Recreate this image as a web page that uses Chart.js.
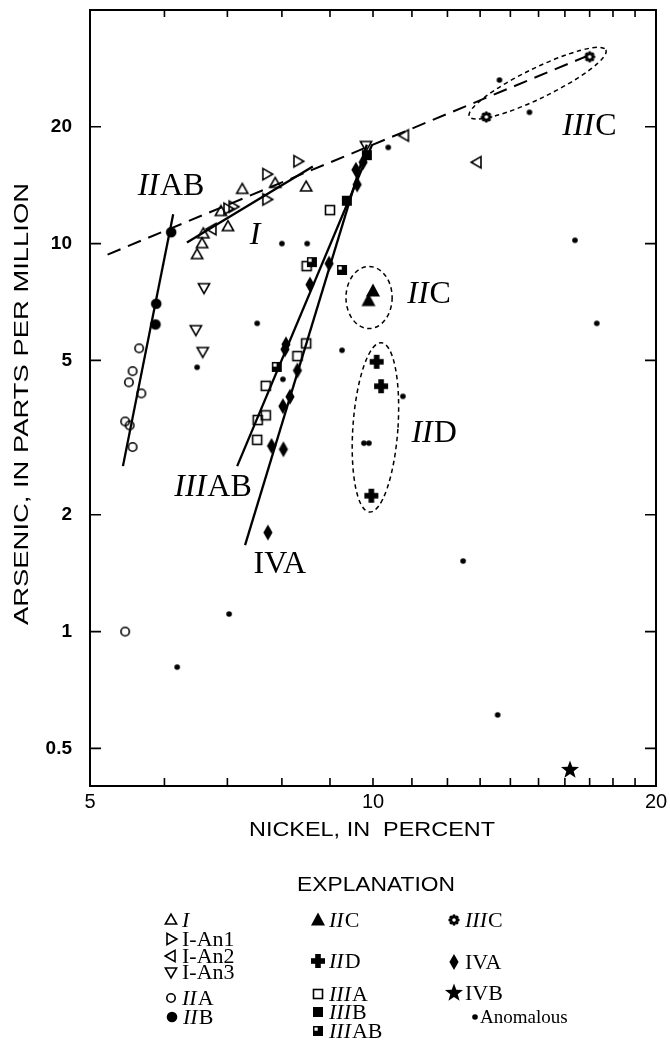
<!DOCTYPE html>
<html>
<head>
<meta charset="utf-8">
<title>Arsenic versus nickel in iron meteorites</title>
<script src="https://cdn.jsdelivr.net/npm/chart.js@4.4.1/dist/chart.umd.min.js"></script>
<style>
  html, body { margin: 0; padding: 0; background: #fff; }
  canvas { display: block; }
</style>
</head>
<body>
<canvas id="chart" width="670" height="1041"></canvas>
<script>
/* Arsenic (ppm) against nickel (%) for iron meteorite groups.
 * Log-log scatter drawn with Chart.js; frame, ticks, group labels,
 * dashed envelopes and the explanation are drawn by a small plugin.
 */

// ── Axis ticks ─────────────────────────────────────────────────────────────────

const X_TICKS  = [5, 6, 7, 8, 9, 10, 11, 12, 13, 14, 15, 16, 17, 18, 19, 20];
const X_LABELS = [5, 10, 20];
const Y_TICKS  = [0.5, 1, 2, 5, 10, 20];

// ── Data: [nickel %, arsenic ppm] ──────────────────────────────────────────────

const GROUP_I   = [[7.26, 13.8], [7.87, 14.3], [8.49, 14.0], [6.89, 12.1], [7.01, 11.06],
                   [6.6, 10.6], [6.58, 10.0], [6.5, 9.37]];
const I_AN1     = [[8.32, 16.3], [7.71, 15.1], [7.71, 13.0], [7.01, 12.3], [7.1, 12.45]];
const I_AN2     = [[10.8, 19.0], [12.9, 16.2], [6.74, 10.9]];
const I_AN3     = [[6.61, 7.7], [6.48, 6.0], [6.59, 5.27], [9.83, 17.9]];
const GROUP_IIA = [[5.64, 5.37], [5.55, 4.69], [5.5, 4.39], [5.67, 4.11], [5.45, 3.48],
                   [5.51, 3.4], [5.55, 2.99], [5.45, 1.0]];
const GROUP_IIB = [[6.1, 10.7], [5.88, 7.0], [5.87, 6.19]];
const GROUP_IIC = [[10.0, 7.55], [9.89, 7.13]];
const GROUP_IID = [[10.09, 4.96], [10.2, 4.29], [9.96, 2.24]];
const GROUP_IIIA  = [[9.0, 12.2], [8.5, 8.75], [8.49, 5.53], [8.31, 5.13], [7.69, 4.3],
                     [7.69, 3.61], [7.54, 3.51], [7.53, 3.12]];
const GROUP_IIIB  = [[9.85, 16.9], [9.38, 12.9]];
const GROUP_IIIAB = [[8.61, 8.96], [9.27, 8.55], [7.9, 4.81]];
const GROUP_IIIC  = [[17.0, 30.3], [13.2, 21.2]];
const GROUP_IVA   = [[8.08, 5.5], [8.06, 5.34], [8.31, 4.71], [8.16, 4.03], [8.02, 3.81],
                     [7.8, 3.01], [8.03, 2.95], [7.73, 1.8], [8.98, 8.88], [8.57, 7.84],
                     [9.59, 15.5], [9.62, 14.2], [9.76, 16.2]];
const GROUP_IVB   = [[16.2, 0.44]];
const ANOMALOUS   = [[13.63, 26.4], [14.67, 21.8], [10.38, 17.7], [16.4, 10.2], [8.0, 10.0],
                     [8.51, 10.0], [7.53, 6.23], [9.27, 5.31], [8.02, 4.47], [9.78, 3.06],
                     [9.9, 3.06], [17.3, 6.23], [10.76, 4.04], [6.5, 4.8], [6.19, 0.81],
                     [7.03, 1.11], [12.47, 1.52], [13.57, 0.61]];

// ── Trend lines (end points) ───────────────────────────────────────────────────

const LINE_I      = [[6.34, 10.06], [8.63, 15.8]];
const LINE_IIAB   = [[5.42, 2.67], [6.13, 11.9]];
const LINE_IIIAB  = [[7.17, 2.67], [9.98, 18.0]];
const LINE_IVA    = [[7.31, 1.67], [9.85, 18.0]];
const LINE_DASHED = [[5.22, 9.37], [17.2, 31.0]];

// ── Annotations (anchored in data space) ───────────────────────────────────────

const ENVELOPES = [
  { x: [9.36, 10.48], y: [6.04, 8.73] },                         // IIC
  { x: [9.52, 10.63], y: [2.03, 5.56], tilt: 4 },                // IID
  { ends: [[12.66, 21.26], [17.69, 31.56]], halfWidth: 15 },     // IIIC
];

const GROUP_LABELS = [
  { num: "II",  rest: "AB", x: 6.09,  y: 13.37 },
  { num: "I",   rest: "",   x: 7.49,  y: 10.0 },
  { num: "II",  rest: "C",  x: 11.46, y: 7.01 },
  { num: "II",  rest: "D",  x: 11.6,  y: 3.08 },
  { num: "III", rest: "C",  x: 16.97, y: 19.07 },
  { num: "III", rest: "AB", x: 6.75,  y: 2.23 },
  { num: "",    rest: "IVA", x: 7.96, y: 1.42 },
];

// ── Markers ────────────────────────────────────────────────────────────────────

function marker(size, paint) {
  const c = document.createElement("canvas");
  c.width = c.height = size;
  const g = c.getContext("2d");
  g.translate(size / 2, size / 2);
  g.lineWidth = 1.6;
  g.strokeStyle = "#000";
  g.fillStyle = "#000";
  g.lineJoin = "miter";
  paint(g);
  return c;
}

function openTriangle(rot) {
  return marker(16, g => {
    g.rotate(rot * Math.PI / 180);
    g.beginPath();
    g.moveTo(0, -5.8);
    g.lineTo(5.6, 4);
    g.lineTo(-5.6, 4);
    g.closePath();
    g.stroke();
  });
}

const MARKERS = {
  I:    openTriangle(0),
  IAn1: openTriangle(90),
  IAn2: openTriangle(-90),
  IAn3: openTriangle(180),
  IIA:  marker(14, g => { g.beginPath(); g.arc(0, 0, 4.2, 0, Math.PI * 2); g.stroke(); }),
  IIB:  marker(14, g => { g.beginPath(); g.arc(0, 0, 5.3, 0, Math.PI * 2); g.fill(); }),
  IIC:  marker(18, g => {
    g.beginPath(); g.moveTo(0, -7.5); g.lineTo(7, 5.5); g.lineTo(-7, 5.5); g.closePath(); g.fill();
  }),
  IID:  marker(16, g => { g.fillRect(-2.8, -7, 5.6, 14); g.fillRect(-7, -2.8, 14, 5.6); }),
  IIIA: marker(14, g => { g.strokeRect(-4.5, -4.5, 9, 9); }),
  IIIB: marker(14, g => { g.fillRect(-5, -5, 10, 10); }),
  IIIAB: marker(14, g => {
    g.fillRect(-5, -5, 10, 10);
    g.fillStyle = "#fff";
    g.fillRect(-3.5, -3.5, 3.2, 3.2);
  }),
  IIIC: marker(14, g => {
    g.beginPath(); g.arc(0, 0, 3.8, 0, Math.PI * 2); g.fill();
    for (let i = 0; i < 8; i++) {
      const a = i * Math.PI / 4;
      g.beginPath(); g.arc(Math.cos(a) * 4, Math.sin(a) * 4, 1.7, 0, Math.PI * 2); g.fill();
    }
    g.fillStyle = "#fff";
    g.beginPath(); g.arc(0, 0, 1.8, 0, Math.PI * 2); g.fill();
  }),
  IVA:  marker(18, g => {
    g.beginPath(); g.moveTo(0, -8); g.lineTo(4.6, 0); g.lineTo(0, 8); g.lineTo(-4.6, 0); g.closePath(); g.fill();
  }),
  IVB:  marker(22, g => {
    g.beginPath();
    for (let i = 0; i < 10; i++) {
      const r = i % 2 ? 3.9 : 9.5;
      const a = -Math.PI / 2 + i * Math.PI / 5;
      g.lineTo(Math.cos(a) * r, Math.sin(a) * r);
    }
    g.closePath(); g.fill();
  }),
  anomalous: marker(8, g => { g.beginPath(); g.arc(0, 0, 2.8, 0, Math.PI * 2); g.fill(); }),
};

// ── Explanation layout ─────────────────────────────────────────────────────────

const LEGEND = [
  { m: "I",    num: "I",   rest: "",      x: 171, y: 920 },
  { m: "IAn1", num: "",    rest: "I-An1", x: 171, y: 939 },
  { m: "IAn2", num: "",    rest: "I-An2", x: 171, y: 956 },
  { m: "IAn3", num: "",    rest: "I-An3", x: 171, y: 972 },
  { m: "IIA",  num: "II",  rest: "A",     x: 171, y: 998 },
  { m: "IIB",  num: "II",  rest: "B",     x: 172, y: 1017 },
  { m: "IIC",  num: "II",  rest: "C",     x: 318, y: 920 },
  { m: "IID",  num: "II",  rest: "D",     x: 318, y: 961 },
  { m: "IIIA", num: "III", rest: "A",     x: 318, y: 994 },
  { m: "IIIB", num: "III", rest: "B",     x: 318, y: 1012 },
  { m: "IIIAB", num: "III", rest: "AB",   x: 318, y: 1031 },
  { m: "IIIC", num: "III", rest: "C",     x: 454, y: 920 },
  { m: "IVA",  num: "",    rest: "IVA",   x: 454, y: 962 },
  { m: "IVB",  num: "",    rest: "IVB",   x: 454, y: 993 },
  { m: "anomalous", num: "", rest: "Anomalous", x: 475, y: 1017, gap: 5, size: 19 },
];

// ── Text helpers ───────────────────────────────────────────────────────────────

const SERIF = "'Liberation Serif', 'DejaVu Serif', serif";
const SANS  = "'Liberation Sans', Arial, sans-serif";

// italic roman numeral followed by upright letters
function romanLabel(ctx, num, rest, x, y, size, align) {
  const it = `italic ${size}px ${SERIF}`;
  const up = `${size}px ${SERIF}`;
  ctx.font = it;
  const wNum = ctx.measureText(num).width;
  ctx.font = up;
  const wRest = ctx.measureText(rest).width;
  let left = align === "center" ? x - (wNum + wRest) / 2 : x;
  ctx.textAlign = "left";
  ctx.font = it;
  ctx.fillText(num, left, y);
  ctx.font = up;
  ctx.fillText(rest, left + wNum + (num ? 1 : 0), y);
}

// sans text stretched to a measured width
function fitText(ctx, text, cx, cy, size, width, vertical) {
  ctx.save();
  ctx.font = `${size}px ${SANS}`;
  const w = ctx.measureText(text).width;
  ctx.translate(cx, cy);
  if (vertical) ctx.rotate(-Math.PI / 2);
  ctx.scale(width / w, 1);
  ctx.textAlign = "center";
  ctx.textBaseline = "middle";
  ctx.fillText(text, 0, 0);
  ctx.restore();
}

// ── Figure plugin ──────────────────────────────────────────────────────────────

const figurePlugin = {
  id: "figure",

  beforeDatasetsDraw(chart) {
    const { ctx, scales: { x, y } } = chart;
    ctx.save();
    ctx.strokeStyle = "#000";
    ctx.lineWidth = 1.5;
    ctx.setLineDash([4.5, 3.5]);
    ENVELOPES.forEach(e => {
      ctx.beginPath();
      if (e.ends) {
        const [p, q] = e.ends;
        const x1 = x.getPixelForValue(p[0]), y1 = y.getPixelForValue(p[1]);
        const x2 = x.getPixelForValue(q[0]), y2 = y.getPixelForValue(q[1]);
        const half = Math.hypot(x2 - x1, y2 - y1) / 2;
        ctx.ellipse((x1 + x2) / 2, (y1 + y2) / 2, half, e.halfWidth,
          Math.atan2(y2 - y1, x2 - x1), 0, Math.PI * 2);
      } else {
        const l = x.getPixelForValue(e.x[0]), r = x.getPixelForValue(e.x[1]);
        const t = y.getPixelForValue(e.y[1]), b = y.getPixelForValue(e.y[0]);
        ctx.ellipse((l + r) / 2, (t + b) / 2, (r - l) / 2, (b - t) / 2,
          (e.tilt || 0) * Math.PI / 180, 0, Math.PI * 2);
      }
      ctx.stroke();
    });
    ctx.setLineDash([]);

    ctx.fillStyle = "#000";
    ctx.textBaseline = "alphabetic";
    GROUP_LABELS.forEach(l =>
      romanLabel(ctx, l.num, l.rest, x.getPixelForValue(l.x), y.getPixelForValue(l.y), 32, "center"));
    ctx.restore();
  },

  afterDatasetsDraw(chart) {
    const { ctx, chartArea: a, scales: { x, y } } = chart;
    ctx.save();
    ctx.strokeStyle = "#000";
    ctx.lineWidth = 2;
    ctx.strokeRect(a.left, a.top, a.right - a.left, a.bottom - a.top);

    ctx.lineWidth = 1.6;
    ctx.beginPath();
    X_TICKS.forEach(v => {
      const px = x.getPixelForValue(v);
      ctx.moveTo(px, a.bottom); ctx.lineTo(px, a.bottom - 8);
      ctx.moveTo(px, a.top);    ctx.lineTo(px, a.top + 7);
    });
    Y_TICKS.forEach(v => {
      const py = y.getPixelForValue(v);
      ctx.moveTo(a.left, py);  ctx.lineTo(a.left + 11, py);
      ctx.moveTo(a.right, py); ctx.lineTo(a.right - 11, py);
    });
    ctx.stroke();
    ctx.restore();
  },

  afterDraw(chart) {
    const { ctx, chartArea: a, scales: { x, y } } = chart;
    ctx.save();
    ctx.fillStyle = "#000";

    // tick labels
    ctx.font = `bold 19px ${SANS}`;
    ctx.textAlign = "right";
    ctx.textBaseline = "middle";
    Y_TICKS.forEach(v => ctx.fillText(String(v), a.left - 18, y.getPixelForValue(v)));
    ctx.font = `20px ${SANS}`;
    ctx.textAlign = "center";
    X_LABELS.forEach(v => ctx.fillText(String(v), x.getPixelForValue(v), a.bottom + 16));

    // axis titles
    fitText(ctx, "ARSENIC, IN PARTS PER MILLION", 22, 404, 21, 442, true);
    fitText(ctx, "NICKEL, IN  PERCENT", 372, 830, 21, 246, false);
    fitText(ctx, "EXPLANATION", 376, 885, 20, 158, false);

    // explanation
    ctx.textBaseline = "middle";
    LEGEND.forEach(item => {
      const img = MARKERS[item.m];
      ctx.drawImage(img, Math.round(item.x - img.width / 2), Math.round(item.y - img.height / 2));
      romanLabel(ctx, item.num, item.rest, item.x + (item.gap || 11), item.y + 1, item.size || 22, "left");
    });
    ctx.restore();
  },
};

// ── Datasets ───────────────────────────────────────────────────────────────────

function toXY(pairs) {
  return pairs.map(([x, y]) => ({ x, y }));
}

function pointSet(label, pairs, key) {
  return {
    label,
    data: toXY(pairs),
    pointStyle: MARKERS[key],
    pointRadius: 5,
    showLine: false,
  };
}

function lineSet(label, pairs, dash) {
  return {
    label,
    data: toXY(pairs),
    showLine: true,
    borderColor: "#000",
    borderWidth: dash ? 2 : 2.3,
    borderDash: dash || [],
    pointRadius: 0,
    order: 1,
  };
}

const datasets = [
  pointSet("IVB", GROUP_IVB, "IVB"),
  pointSet("IID", GROUP_IID, "IID"),
  pointSet("IIC", GROUP_IIC, "IIC"),
  pointSet("IIIC", GROUP_IIIC, "IIIC"),
  pointSet("IIB", GROUP_IIB, "IIB"),
  pointSet("IVA", GROUP_IVA, "IVA"),
  pointSet("IIIB", GROUP_IIIB, "IIIB"),
  pointSet("IIIAB", GROUP_IIIAB, "IIIAB"),
  pointSet("IIIA", GROUP_IIIA, "IIIA"),
  pointSet("IIA", GROUP_IIA, "IIA"),
  pointSet("I", GROUP_I, "I"),
  pointSet("I-An1", I_AN1, "IAn1"),
  pointSet("I-An2", I_AN2, "IAn2"),
  pointSet("I-An3", I_AN3, "IAn3"),
  pointSet("Anomalous", ANOMALOUS, "anomalous"),
  lineSet("I trend", LINE_I),
  lineSet("IIAB trend", LINE_IIAB),
  lineSet("IIIAB trend", LINE_IIIAB),
  lineSet("IVA trend", LINE_IVA),
  lineSet("common trend", LINE_DASHED, [14, 8]),
];

// ── Chart ──────────────────────────────────────────────────────────────────────

new Chart(document.getElementById("chart"), {
  type: "scatter",
  data: { datasets },
  options: {
    responsive: false,
    animation: false,
    devicePixelRatio: 1,
    events: [],
    layout: { padding: { left: 90, top: 10, right: 14, bottom: 255 } },
    plugins: { legend: { display: false }, tooltip: { enabled: false } },
    scales: {
      x: { type: "logarithmic", min: 5, max: 20, display: false },
      y: { type: "logarithmic", min: 0.4, max: 40, display: false },
    },
  },
  plugins: [figurePlugin],
});
</script>
</body>
</html>
